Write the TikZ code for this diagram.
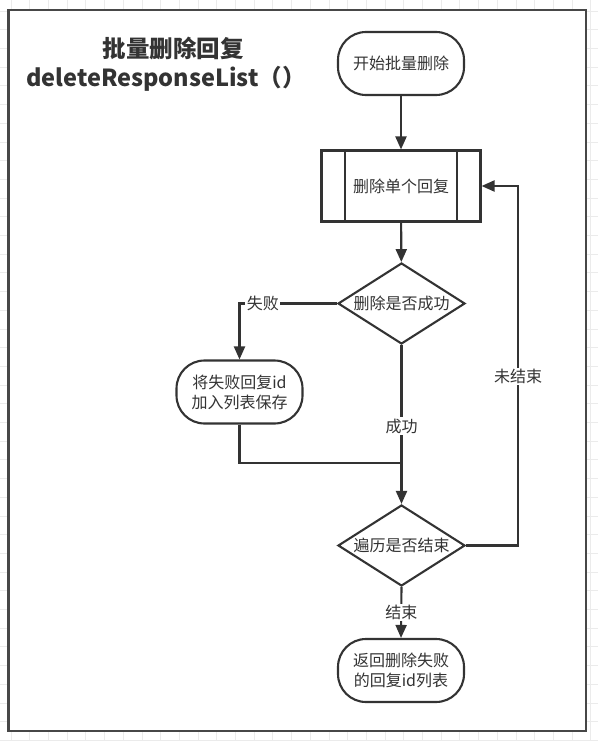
\documentclass[tikz,border=0pt]{standalone}
\usepackage{fontspec}
\setmainfont{Noto Sans CJK SC}
\usetikzlibrary{shapes.geometric,arrows.meta}
\definecolor{ln}{HTML}{333333}
\definecolor{tx}{HTML}{333333}
\definecolor{gridc}{HTML}{EBEBEB}
\newcommand{\nodefont}{\fontsize{16}{20}\selectfont}
\begin{document}
\begin{tikzpicture}[x=1pt,y=-1pt,
  term/.style={draw=ln, line width=2.1pt, rounded corners=28pt, minimum width=126pt, minimum height=63pt, inner sep=0pt, align=center, font=\nodefont, text=tx},
  procbox/.style={draw=ln, line width=2.1pt, minimum width=159pt, minimum height=71pt, inner sep=0pt, font=\nodefont, text=tx},
  dia/.style={draw=ln, line width=2.1pt, diamond, minimum width=127pt, minimum height=81pt, inner sep=0pt, label={[font=\nodefont, text=tx]center:#1}},
  lbl/.style={fill=white, inner sep=1.5pt, font=\nodefont, text=tx},
  conn/.style={draw=ln, line width=2.1pt},
  arr/.style={conn, -{Triangle[length=13pt,width=11pt]}},
  titlefont/.style={font=\fontsize{23.5}{28}\selectfont\bfseries, text=tx}
]
\useasboundingbox (0,0) rectangle (598,741);
% background grid
\foreach \i in {0,...,32} \draw[gridc, line width=0.7pt] ({11+18.7*\i},0) -- ({11+18.7*\i},741);
\foreach \i in {0,...,39} \draw[gridc, line width=0.7pt] (0,{11+18.7*\i}) -- (598,{11+18.7*\i});
% frame
\draw[fill=white, draw=ln!90, line width=2.4pt] (8.5,10) rectangle (586,731);

% title
\node[titlefont] (t1) at (173,49) {批量删除回复};
\node[titlefont] (t2) at (166,79) {deleteResponseList（）};

% nodes
\node[term] (start) at (401,63.5) {开始批量删除};
\node[procbox] (proc) at (401,186) {删除单个回复};
\draw[ln, line width=2.1pt] ([xshift=24.5pt]proc.north west) -- ([xshift=24.5pt]proc.south west);
\draw[ln, line width=2.1pt] ([xshift=-24.5pt]proc.north east) -- ([xshift=-24.5pt]proc.south east);
\node[dia=删除是否成功] (d1) at (401.5,303.5) {};
\node[term] (fail) at (239.5,392) {将失败回复id\\加入列表保存};
\node[dia=遍历是否结束] (d2) at (401.5,545.5) {};
\node[term] (end) at (401,670.5) {返回删除失败\\的回复id列表};

\coordinate (j) at (401.5,463);
\coordinate (lp) at (518,186);

% connectors
\draw[arr] (start) -- (proc);
\draw[arr] (proc) -- (d1);
\draw[arr] (d1.west) -| node[lbl, pos=0.38] {失败} (fail.north);
\draw[conn] (fail.south) |- (j);
\draw[arr] (d1.south) -- node[lbl, pos=0.51] {成功} (d2.north);
\draw[arr] (d2.east) -| node[lbl, pos=0.735] {未结束} (lp) -- (proc.east);
\draw[arr] (d2.south) -- node[lbl, pos=0.5] {结束} (end.north);
\end{tikzpicture}
\end{document}
